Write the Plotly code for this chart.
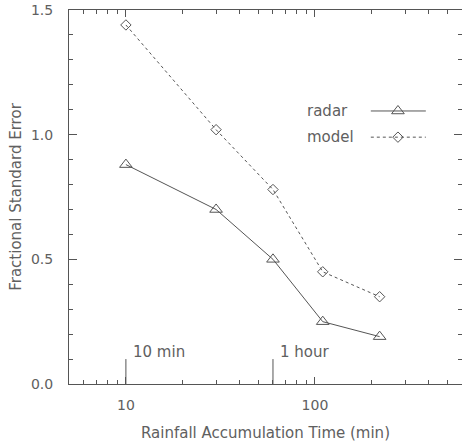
import math
import plotly.graph_objects as go

# ---- data ----
accum_time = [10, 30, 60, 110, 220]
radar_err = [0.88, 0.70, 0.50, 0.25, 0.19]
model_err = [1.44, 1.02, 0.78, 0.45, 0.35]
ref_times = [10, 60]
ref_labels = ["10 min", "1 hour"]
series_names = ["radar", "model"]

x_major = [10, 100]
x_minor = [6, 7, 8, 9, 20, 30, 40, 50, 60, 70, 80, 90, 200, 300, 400, 500]
y_major = [0.0, 0.5, 1.0, 1.5]
y_minor = [0.1, 0.2, 0.3, 0.4, 0.6, 0.7, 0.8, 0.9, 1.1, 1.2, 1.3, 1.4]

LINE = "#555555"
TEXT = "#606060"
FONT = "DejaVu Sans"
DASH = "3px,3px"

fig = go.Figure()
fig.add_trace(go.Scatter(x=accum_time, y=radar_err, mode="lines+markers",
                         line=dict(color=LINE, width=1),
                         marker=dict(symbol="triangle-up-open", size=11, color=LINE,
                                     line=dict(width=1, color=LINE)),
                         showlegend=False))
fig.add_trace(go.Scatter(x=accum_time, y=model_err, mode="lines+markers",
                         line=dict(color=LINE, width=1, dash=DASH),
                         marker=dict(symbol="diamond-open", size=8, color=LINE,
                                     line=dict(width=1, color=LINE)),
                         showlegend=False))

# legend samples drawn on an overlay axis in plot-area fractions
leg_x = [0.768, 0.908]
leg_mx = 0.837
leg_y = [0.730, 0.660]
styles = [dict(dash="solid", sym="triangle-up-open", size=11),
          dict(dash=DASH, sym="diamond-open", size=8)]
for name, ly, st in zip(series_names, leg_y, styles):
    fig.add_trace(go.Scatter(x=leg_x, y=[ly, ly], mode="lines", xaxis="x2", yaxis="y2",
                             line=dict(color=LINE, width=1, dash=st["dash"]),
                             showlegend=False, hoverinfo="skip"))
    fig.add_trace(go.Scatter(x=[leg_mx], y=[ly], mode="markers", xaxis="x2", yaxis="y2",
                             marker=dict(symbol=st["sym"], size=st["size"], color=LINE,
                                         line=dict(width=1, color=LINE)),
                             showlegend=False, hoverinfo="skip"))
    fig.add_annotation(x=0.600, y=ly, xref="x2", yref="y2", text=name, showarrow=False,
                       xanchor="left", yanchor="middle",
                       font=dict(family=FONT, size=15, color=TEXT))

for t, lab in zip(ref_times, ref_labels):
    fig.add_shape(type="line", x0=t, x1=t, y0=0, y1=0.1, xref="x", yref="y",
                  line=dict(color=LINE, width=1))
    fig.add_annotation(x=math.log10(t), y=0.1, xref="x", yref="y", text=lab,
                       showarrow=False, xanchor="left", yanchor="bottom",
                       xshift=5, yshift=-4,
                       font=dict(family=FONT, size=15, color=TEXT))

fig.update_layout(
    width=462, height=448,
    margin=dict(l=69, r=0, t=10, b=64),
    paper_bgcolor="white", plot_bgcolor="white",
    font=dict(family=FONT, size=14, color=TEXT),
    xaxis=dict(type="log", range=[math.log10(5), math.log10(600)], automargin=False,
               tickvals=x_major, ticktext=[str(v) for v in x_major],
               ticks="inside", ticklen=7, tickcolor=LINE, tickwidth=1,
               minor=dict(tickvals=x_minor, ticks="inside", ticklen=4,
                          tickcolor=LINE, tickwidth=1, showgrid=False),
               showline=True, linecolor=LINE, linewidth=1, mirror="ticks",
               showgrid=False, zeroline=False, ticklabelstandoff=8,
               title=dict(text="Rainfall Accumulation Time (min)", standoff=15,
                          font=dict(family=FONT, size=15, color=TEXT))),
    yaxis=dict(range=[0, 1.5], tickvals=y_major, tickformat=".1f", automargin=False,
               ticks="inside", ticklen=8, tickcolor=LINE, tickwidth=1,
               minor=dict(tickvals=y_minor, ticks="inside", ticklen=4,
                          tickcolor=LINE, tickwidth=1, showgrid=False),
               showline=True, linecolor=LINE, linewidth=1, mirror="ticks",
               showgrid=False, zeroline=False, ticklabelstandoff=12,
               title=dict(text="Fractional Standard Error", standoff=5,
                          font=dict(family=FONT, size=15, color=TEXT))),
    xaxis2=dict(overlaying="x", range=[0, 1], visible=False, domain=[0, 1]),
    yaxis2=dict(overlaying="y", range=[0, 1], visible=False, domain=[0, 1]),
)

fig.write_html("out.html", config={"displayModeBar": False},
               post_script="document.body.style.margin='0';document.body.style.padding='0';")
